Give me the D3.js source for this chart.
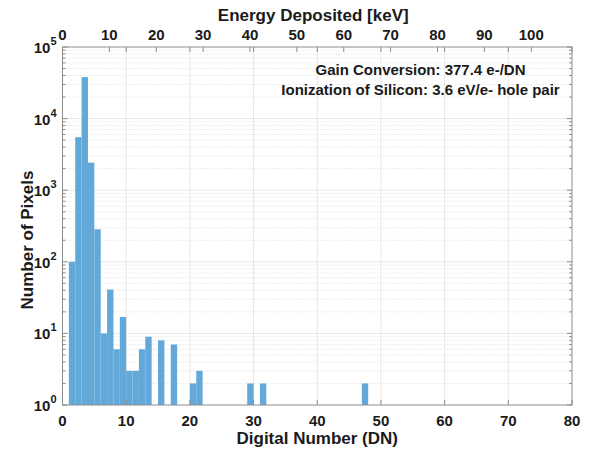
<!DOCTYPE html>
<html>
<head>
<meta charset="utf-8">
<script src="https://cdn.jsdelivr.net/npm/d3@7"></script>
<style>
  body { margin: 0; background: #fff; }
  text { font-family: "Liberation Sans", Arial, sans-serif; font-weight: bold; fill: #1a1a1a; }
</style>
</head>
<body>
<div id="chart"></div>
<script>
// histogram bins (left edge in DN, width 1) and counts
var binStart = [1, 2, 3, 4, 5, 6, 7, 8, 9, 10, 11, 12, 13, 15, 17, 20, 21, 29, 31, 47];
var counts   = [100, 5500, 38000, 2430, 285, 10, 41, 6, 17, 3, 3, 6, 9, 8, 7, 2, 3, 2, 2, 2];

var dnTicks  = [0, 10, 20, 30, 40, 50, 60, 70, 80];
var keVTicks = [0, 10, 20, 30, 40, 50, 60, 70, 80, 90, 100];
var decades  = [0, 1, 2, 3, 4, 5];

// 377.4 e-/DN * 3.6 eV per e- -> keV per DN
var keVPerDN = 377.4 * 3.6 / 1000;

var W = 590, H = 449;
var margin = {top: 47, right: 18, bottom: 44, left: 62.5},
    width = W - margin.left - margin.right,
    height = H - margin.top - margin.bottom;

var svg = d3.select("#chart")
  .append("svg")
  .attr("width", W)
  .attr("height", H)
.append("g")
  .attr("transform", "translate(" + margin.left + "," + margin.top + ")");

var x = d3.scaleLinear().domain([0, 80]).range([0, width]);
var xTop = d3.scaleLinear().domain([0, 80 * keVPerDN]).range([0, width]);
var y = d3.scaleLog().domain([1, 1e5]).range([height, 0]);

// minor log values 2..9 per decade
var minor = [];
for (var d = 0; d < 5; d++) {
  for (var m = 2; m <= 9; m++) minor.push(m * Math.pow(10, d));
}

// grid
var grid = svg.append("g").attr("class", "grid");
grid.selectAll("line.minor")
  .data(minor)
  .enter()
  .append("line")
    .attr("x1", 0).attr("x2", width)
    .attr("y1", function(d) { return y(d); })
    .attr("y2", function(d) { return y(d); })
    .style("stroke", "#d4d4d4")
    .style("stroke-dasharray", "1,2")
    .style("stroke-width", 0.8);

grid.selectAll("line.major")
  .data(decades.slice(1, 5))
  .enter()
  .append("line")
    .attr("x1", 0).attr("x2", width)
    .attr("y1", function(d) { return y(Math.pow(10, d)); })
    .attr("y2", function(d) { return y(Math.pow(10, d)); })
    .style("stroke", "#e6e6e6");

grid.selectAll("line.vert")
  .data(dnTicks.slice(1, 8))
  .enter()
  .append("line")
    .attr("x1", function(d) { return x(d); })
    .attr("x2", function(d) { return x(d); })
    .attr("y1", 0).attr("y2", height)
    .style("stroke", "#e6e6e6");

// bars
svg.append("g")
  .selectAll("rect")
  .data(binStart)
  .enter()
  .append("rect")
    .attr("x", function(d) { return x(d); })
    .attr("width", function(d) { return x(d + 1) - x(d); })
    .attr("y", function(d, i) { return y(counts[i]); })
    .attr("height", function(d, i) { return y(1) - y(counts[i]); })
    .style("fill", "#62a9d9");

// axis box
var axisColor = "#8c8c8c";
svg.append("rect")
  .attr("width", width).attr("height", height)
  .style("fill", "none")
  .style("stroke", axisColor);

var ticks = svg.append("g").style("stroke", axisColor);
var tl = 5, ml = 3;

// bottom / top DN ticks (inward)
dnTicks.forEach(function(t) {
  ticks.append("line").attr("x1", x(t)).attr("x2", x(t)).attr("y1", height).attr("y2", height - tl);
  ticks.append("line").attr("x1", x(t)).attr("x2", x(t)).attr("y1", 0).attr("y2", tl);
});
// keV ticks on top
keVTicks.forEach(function(t) {
  ticks.append("line").attr("x1", xTop(t)).attr("x2", xTop(t)).attr("y1", 0).attr("y2", tl);
});
// y ticks, both sides
decades.forEach(function(d) {
  var yy = y(Math.pow(10, d));
  ticks.append("line").attr("x1", 0).attr("x2", tl).attr("y1", yy).attr("y2", yy);
  ticks.append("line").attr("x1", width).attr("x2", width - tl).attr("y1", yy).attr("y2", yy);
});
minor.forEach(function(v) {
  var yy = y(v);
  ticks.append("line").attr("x1", 0).attr("x2", ml).attr("y1", yy).attr("y2", yy);
  ticks.append("line").attr("x1", width).attr("x2", width - ml).attr("y1", yy).attr("y2", yy);
});

// bottom tick labels
svg.append("g")
  .selectAll("text")
  .data(dnTicks)
  .enter()
  .append("text")
    .attr("x", function(d) { return x(d); })
    .attr("y", height + 21)
    .attr("text-anchor", "middle")
    .style("font-size", "15px")
    .text(function(d) { return d; });

// top tick labels
svg.append("g")
  .selectAll("text")
  .data(keVTicks)
  .enter()
  .append("text")
    .attr("x", function(d) { return xTop(d); })
    .attr("y", -7)
    .attr("text-anchor", "middle")
    .style("font-size", "15px")
    .text(function(d) { return d; });

// y tick labels 10^n
var yl = svg.append("g")
  .selectAll("text")
  .data(decades)
  .enter()
  .append("text")
    .attr("x", -6)
    .attr("y", function(d) { return y(Math.pow(10, d)) + 6; })
    .attr("text-anchor", "end")
    .style("font-size", "15px");
yl.append("tspan").text("10");
yl.append("tspan")
  .attr("dy", -8)
  .style("font-size", "11px")
  .text(function(d) { return d; });

// axis labels
svg.append("text")
  .attr("x", width / 2)
  .attr("y", height + 39)
  .attr("text-anchor", "middle")
  .style("font-size", "17px")
  .text("Digital Number (DN)");

svg.append("text")
  .attr("x", width / 2 - 4)
  .attr("y", -26)
  .attr("text-anchor", "middle")
  .style("font-size", "17px")
  .text("Energy Deposited [keV]");

svg.append("text")
  .attr("transform", "translate(-30," + (height / 2 + 14) + ") rotate(-90)")
  .attr("text-anchor", "middle")
  .style("font-size", "17px")
  .text("Number of Pixels");

// annotation
svg.append("text")
  .attr("x", 358)
  .attr("y", 28)
  .attr("text-anchor", "middle")
  .style("font-size", "15px")
  .text("Gain Conversion: 377.4 e-/DN");
svg.append("text")
  .attr("x", 358)
  .attr("y", 48)
  .attr("text-anchor", "middle")
  .style("font-size", "15px")
  .text("Ionization of Silicon: 3.6 eV/e- hole pair");
</script>
</body>
</html>
